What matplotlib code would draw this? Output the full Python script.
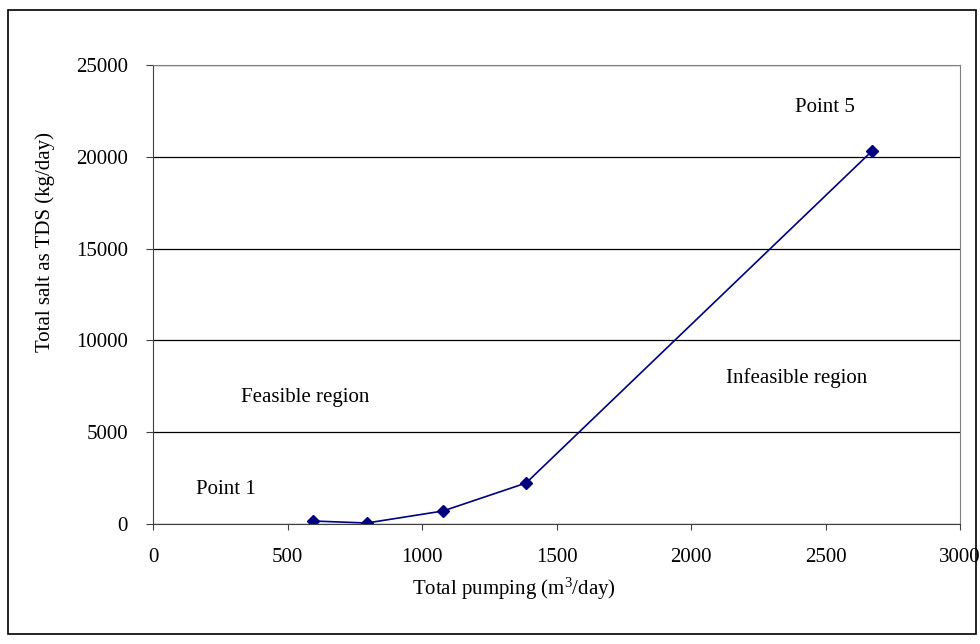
import matplotlib
matplotlib.use("Agg")
import matplotlib.pyplot as plt
from matplotlib.patches import Rectangle

pumping = [595, 795, 1078, 1387, 2673]
salt = [163, 54, 708, 2233, 20316]
xticks = [0, 500, 1000, 1500, 2000, 2500, 3000]
yticks = [0, 5000, 10000, 15000, 20000, 25000]

plt.rcParams['font.family'] = ['Liberation Serif', 'DejaVu Serif']
plt.rcParams['mathtext.fontset'] = 'custom'
plt.rcParams['mathtext.rm'] = 'Liberation Serif'
plt.rcParams['mathtext.it'] = 'Liberation Serif:italic'
plt.rcParams['mathtext.bf'] = 'Liberation Serif:bold'
fs = 15

fig = plt.figure(figsize=(9.8, 6.44), dpi=100)
fig.patches.append(Rectangle((8/980, 1-634/644), 968/980, 624/644, transform=fig.transFigure,
                             fill=False, edgecolor='black', linewidth=1.2))
ax = fig.add_axes([153/980, 1-524/644, 807/980, 459/644])
ax.plot(pumping, salt, color='#000080', marker='D', markersize=6, linewidth=1.2)
ax.set_xlim(0, 3000)
ax.set_ylim(0, 25000)
ax.set_xticks(xticks)
ax.set_yticks(yticks)
ax.set_xticklabels([str(v) for v in xticks], fontsize=fs)
ax.set_yticklabels([str(v) for v in yticks], fontsize=fs)
ax.yaxis.grid(True, color='black', linewidth=0.9)
ax.set_axisbelow(True)
for s in ['top', 'right']:
    ax.spines[s].set_color('#808080')
for s in ['left', 'bottom']:
    ax.spines[s].set_color('#404040')
ax.tick_params(axis='y', direction='out', length=5, color='#404040', pad=13)
ax.tick_params(axis='x', direction='out', length=4.5, color='#404040', pad=13)
ax.set_xlabel(r'Total pumping (m$\mathrm{^3}$/day)', fontsize=fs, va='center')
ax.set_ylabel('Total salt as TDS (kg/day)', fontsize=fs, va='center')
ax.xaxis.set_label_coords((513.5-153)/807, (524-589)/459)
ax.yaxis.set_label_coords((45.5-153)/807, (524-242.5)/459)
ax.text(327, 6917, 'Feasible region', fontsize=fs, va='center')
ax.text(2130, 7952, 'Infeasible region', fontsize=fs, va='center')
ax.text(160, 1852, 'Point 1', fontsize=fs, va='center')
ax.text(2387, 22712, 'Point 5', fontsize=fs, va='center')
fig.savefig('out.png', dpi=100)
